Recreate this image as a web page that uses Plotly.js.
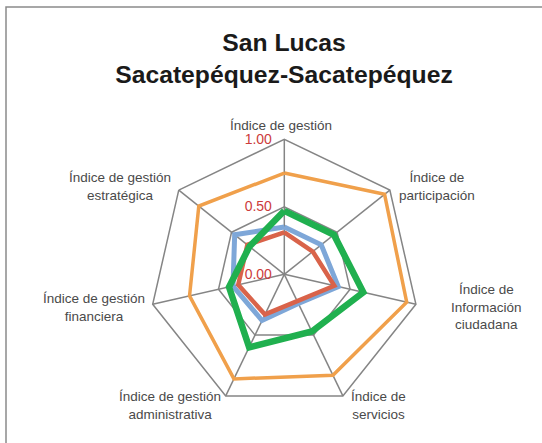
<!DOCTYPE html>
<html>
<head>
<meta charset="utf-8">
<script src="https://cdn.plot.ly/plotly-3.0.1.min.js"></script>
<style>
  body { margin: 0; background: #fff; }
  #graph { width: 542px; height: 443px; }
</style>
</head>
<body>
<div id="graph"></div>
<script>
// categorias (ejes del radar), en sentido horario desde arriba
const indices = [
    'Índice de gestión',
    'Índice de<br>participación',
    'Índice de<br>Información<br>ciudadana',
    'Índice de<br>servicios',
    'Índice de gestión<br>administrativa',
    'Índice de gestión<br>financiera',
    'Índice de gestión<br>estratégica'
];

// valores
const serieNaranja = [0.75, 0.95, 0.93, 0.83, 0.86, 0.72, 0.81];
const serieAzul    = [0.35, 0.35, 0.41, 0.24, 0.38, 0.39, 0.47];
const serieRoja    = [0.31, 0.27, 0.38, 0.22, 0.33, 0.35, 0.35];
const serieVerde   = [0.47, 0.47, 0.60, 0.47, 0.60, 0.42, 0.33];

const radialTicks = [0, 0.5, 1];

// donde va cada etiqueta de categoria (px desde arriba-izquierda)
const posEtiquetas = [
    [281, 125], [437, 187], [486, 307], [378, 405],
    [170, 405], [94, 307], [120, 187]
];

// cerrar el poligono repitiendo el primer punto
function cerrar(arr){
    return arr.concat([arr[0]]);
}

function traza(valores, color, ancho){
    return {
        type: 'scatterpolar',
        mode: 'lines',
        r: cerrar(valores),
        theta: cerrar(indices),
        line: {color: color, width: ancho},
        hoverinfo: 'skip'
    };
}

const data = [
    traza(serieNaranja, '#f0a04b', 3.5),
    traza(serieAzul, '#7ea7d8', 5),
    traza(serieRoja, '#d9634a', 4.5),
    traza(serieVerde, '#20b04f', 6.5)
];

// etiquetas de los ejes como anotaciones, centradas como en el original
const anotaciones = indices.map((txt, i) => ({
    text: txt,
    xref: 'paper', yref: 'paper',
    x: posEtiquetas[i][0] / 542,
    y: 1 - posEtiquetas[i][1] / 443,
    xanchor: 'center', yanchor: 'middle',
    align: 'center',
    showarrow: false,
    font: {size: 13.5, color: '#4a4a4a'}
}));

const layout = {
    width: 542,
    height: 443,
    margin: {l: 0, r: 0, t: 0, b: 0},
    paper_bgcolor: '#ffffff',
    showlegend: false,
    font: {family: 'Liberation Sans, Arial, sans-serif', color: '#444'},
    title: {
        text: '<b>San Lucas<br>Sacatepéquez-Sacatepéquez</b>',
        font: {size: 24.7, color: '#1a1a1a', family: 'Liberation Sans, Arial, sans-serif'},
        x: 0.524,
        xanchor: 'center',
        y: 0.886,
        yanchor: 'top'
    },
    polar: {
        domain: {x: [149.3/542, 419.3/542], y: [1 - 409.3/443, 1 - 139.3/443]},
        gridshape: 'linear',
        bgcolor: 'rgba(0,0,0,0)',
        radialaxis: {
            range: [0, 1],
            tickvals: radialTicks,
            tickformat: '.2f',
            angle: 90,
            tickangle: 90,
            side: 'counterclockwise',
            showline: false,
            ticks: 'outside',
            ticklen: 7,
            tickcolor: 'rgba(0,0,0,0)',
            gridcolor: '#858585',
            gridwidth: 1.5,
            tickfont: {size: 14, color: '#cc3b3b'}
        },
        angularaxis: {
            rotation: 90,
            direction: 'clockwise',
            showline: true,
            linecolor: '#858585',
            linewidth: 1.5,
            gridcolor: '#858585',
            gridwidth: 1.5,
            ticks: '',
            showticklabels: false
        }
    },
    annotations: anotaciones,
    shapes: [{
        type: 'rect', xref: 'paper', yref: 'paper',
        x0: 6/542, x1: 1.05, y0: -0.05, y1: 1 - 7/443,
        line: {color: '#8a8a8a', width: 1.5}
    }]
};

const config = {staticPlot: true};

Plotly.newPlot(document.getElementById('graph'), data, layout, config);
</script>
</body>
</html>
